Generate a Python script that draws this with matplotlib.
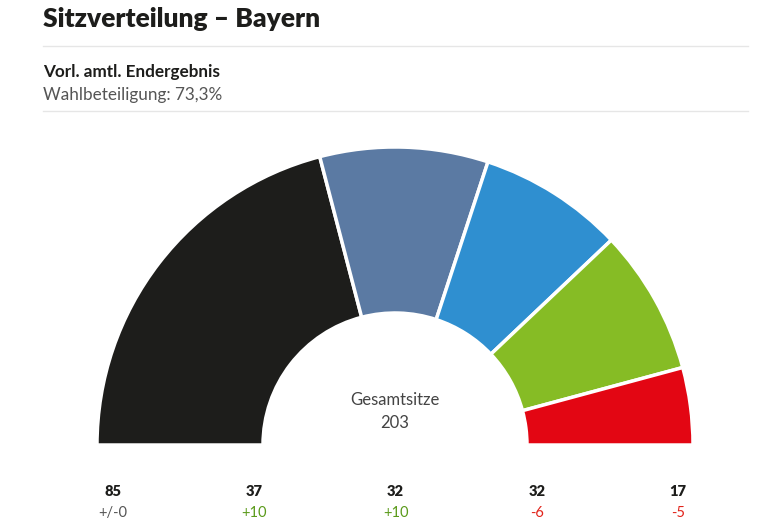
import numpy as np
import matplotlib.pyplot as plt
from matplotlib.patches import Wedge

plt.rcParams["font.family"] = ["Lato", "DejaVu Sans"]

# seat distribution
seats = [85, 37, 32, 32, 17]
changes = ["+/-0", "+10", "+10", "-6", "-5"]
colors = ["#1d1d1b", "#5b7aa3", "#2f8fd0", "#86bc25", "#e30613"]
change_colors = ["#555555", "#5a9a1a", "#5a9a1a", "#e2231a", "#e2231a"]
turnout = "73,3%"

W, H = 768, 529
fig = plt.figure(figsize=(W / 100, H / 100), dpi=100)
ax = fig.add_axes([0, 0, 1, 1])
ax.set_xlim(0, W)
ax.set_ylim(H, 0)
ax.axis("off")

# header
ax.text(43, 19, "Sitzverteilung – Bayern", fontsize=19, fontweight="heavy",
        color="#1d1d1b", va="center", ha="left")
ax.plot([43, 748], [46, 46], color="#e6e6e6", lw=1)
ax.text(43, 72, "Vorl. amtl. Endergebnis", fontsize=12.3, fontweight="bold",
        color="#1d1d1b", va="center", ha="left")
ax.text(43, 95, "Wahlbeteiligung: " + turnout, fontsize=12.3,
        color="#555555", va="center", ha="left")
ax.plot([43, 748], [111, 111], color="#e6e6e6", lw=1)

# half-donut (y axis is inverted, so upper half runs from 180 to 360 degrees)
cx, cy = 395, 445
r_out, r_in = 298, 132
total = sum(seats)
bounds = np.concatenate([[0], np.cumsum(seats)]) / total
for i, s in enumerate(seats):
    t1 = 180 + 180 * bounds[i]
    t2 = 180 + 180 * bounds[i + 1]
    ax.add_patch(Wedge((cx, cy), r_out, t1, t2, width=r_out - r_in,
                       facecolor=colors[i], edgecolor="white", lw=2.5))

ax.text(cx, 400, "Gesamtsitze", fontsize=12, color="#444444",
        ha="center", va="center")
ax.text(cx, 423, str(total), fontsize=12, color="#444444",
        ha="center", va="center")

# labels under the chart
xs = np.linspace(113, 678, len(seats))
for x, s, c, cc in zip(xs, seats, changes, change_colors):
    ax.text(x, 492, str(s), fontsize=10.5, fontweight="heavy", color="#1d1d1b",
            ha="center", va="center")
    ax.text(x, 513, c, fontsize=10.5, color=cc, ha="center", va="center")

fig.savefig("out.png", dpi=100, facecolor="white")
